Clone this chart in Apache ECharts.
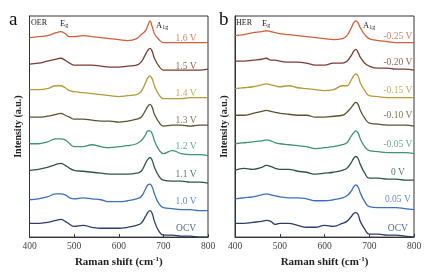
<!DOCTYPE html>
<html><head><meta charset="utf-8">
<script src="https://cdn.jsdelivr.net/npm/echarts@6/dist/echarts.min.js"></script>
<style>html,body{margin:0;padding:0;background:#fff}#c{width:435px;height:273px}</style>
</head><body><div id="c"></div>
<script>
// Raman shift sample points (cm-1)
const shifts = [400,420,440,460,470,480,490,500,520,540,560,580,600,620,640,650,660,665,670,675,680,690,700,720,740,760,780,800];
const xTicks = [400,500,600,700,800];

// Panel a (OER): stacked spectra, top to bottom
const oerNames = ['1.6 V','1.5 V','1.4 V','1.3 V','1.2 V','1.1 V','1.0 V','OCV'];
const oer16 = [203,204,205,208,209,207,204,204,205,204,203,202,201,200,202,206,210,215,220,214,207,201,198,198,198,198,198,198];
const oer15 = [176,177,179,181,182,180,177,175,175,175,174,173,173,174,175,178,186,190,192,189,182,174,170,170,170,170,170,171];
const oer14 = [150,150,151,154,154,152,149,148,147,146,145,144,143,144,145,148,157,162,164,161,154,145,141,141,141,142,142,142];
const oer13 = [122,122,123,125,126,124,122,120,120,119,118,118,117,118,120,122,129,133,135,132,125,117,113,114,114,113,114,114];
const oer12 = [95,95,97,100,100,99,95,92,92,94,92,91,92,93,95,98,104,108,108,105,98,89,85,88,85,84,84,83];
const oer11 = [68,69,71,74,75,73,70,68,67,66,65,64,64,64,65,67,75,79,81,78,71,62,58,57,57,56,56,55];
const oer10 = [38,39,41,44,44,43,40,39,40,39,38,36,36,37,39,41,49,53,54,51,44,34,30,29,28,28,27,27];
const oerOCV = [14,14,15,17,18,16,13,11,12,10,9,9,9,10,12,14,21,25,27,24,16,6,2,2,1,1,0,0];
const oerLabelY = [202,174,146,119,92,64,36,9];

// Panel b (HER)
const herNames = ['-0.25 V','-0.20 V','-0.15 V','-0.10 V','-0.05 V','0 V','0.05 V','OCV'];
const her025 = [205,206,208,209,210,209,208,207,206,205,204,203,202,201,202,205,213,218,220,218,213,206,202,200,199,198,198,198];
const her020 = [179,179,180,181,182,180,180,179,178,178,177,175,175,177,177,179,185,189,191,188,183,177,174,172,172,171,171,170];
const her015 = [151,152,153,155,156,155,154,153,154,152,151,150,149,150,154,154,160,164,166,164,157,149,144,143,142,142,142,142];
const her010 = [124,124,126,128,129,128,127,126,125,124,124,122,122,123,124,127,132,135,137,135,129,121,116,115,114,114,114,113];
const her005 = [95,96,97,98,99,98,96,95,94,93,92,90,91,92,94,96,103,106,108,106,100,92,88,87,86,86,86,85];
const her0 = [68,70,69,71,73,72,70,69,69,67,66,64,65,66,68,70,76,80,82,80,74,65,60,60,59,59,58,58];
const herP005 = [39,40,41,43,44,43,42,41,40,40,39,37,37,38,40,42,47,51,53,51,45,36,31,30,30,30,29,28];
const herOCV = [14,14,15,16,17,16,13,14,14,12,10,10,12,11,14,16,21,24,25,23,16,8,3,3,2,2,1,0];
const herLabelY = [204,178,149,124,94,66,38,9];

const oerSpectra = [oer16,oer15,oer14,oer13,oer12,oer11,oer10,oerOCV];
const herSpectra = [her025,her020,her015,her010,her005,her0,herP005,herOCV];
const colors = ['#d0603a','#7b3b32','#b59a35','#5c5232','#3e9277','#2f5645','#3b6fc2','#2c3e6b'];

const FONT = 'Liberation Serif';
const chart = echarts.init(document.getElementById('c'), null, {renderer:'canvas'});

function xAxisFor(i){
  return {
    gridIndex:i, type:'value', min:400, max:800, interval:100,
    axisLine:{show:true, lineStyle:{color:'#333', width:1}},
    axisTick:{show:true, inside:true, length:3, lineStyle:{color:'#333'}},
    axisLabel:{fontFamily:FONT, fontSize:9.5, color:'#444', margin:4},
    splitLine:{show:false},
    name:'Raman shift (cm{sup|-1})', nameLocation:'middle', nameGap:17,
    nameTextStyle:{fontFamily:FONT, fontSize:11, fontWeight:'bold', color:'#222',
      rich:{sup:{fontFamily:FONT, fontSize:7, fontWeight:'bold', color:'#222', padding:[0,0,6,0]}}}
  };
}
function yAxisFor(i){
  return {
    gridIndex:i, type:'value', min:0, max:225,
    axisLine:{show:true, lineStyle:{color:'#333', width:1}},
    axisTick:{show:false}, axisLabel:{show:false}, splitLine:{show:false},
    name:'Intensity (a.u.)', nameLocation:'middle', nameGap:6,
    nameTextStyle:{fontFamily:FONT, fontSize:10, fontWeight:'bold', color:'#222'}
  };
}

const series = [];
function addPanel(idx, spectra, names, labelY, labelX){
  spectra.forEach((arr, k) => {
    series.push({
      type:'line', xAxisIndex:idx, yAxisIndex:idx, name:names[k],
      data: shifts.map((x, j) => [x, arr[j]]),
      showSymbol:false, smooth:0.45,
      lineStyle:{color:colors[k], width:1.3}, silent:true
    });
  });
  series.push({
    type:'scatter', xAxisIndex:idx, yAxisIndex:idx, symbolSize:0, silent:true,
    data: names.map((n, k) => ({value:[labelX, labelY[k]], name:n,
      label:{color:colors[k]}})),
    label:{show:true, position:'inside', formatter:p=>p.name, fontFamily:FONT, fontSize:9.5}
  });
}
addPanel(0, oerSpectra, oerNames, oerLabelY, 751);
addPanel(1, herSpectra, herNames, herLabelY, 764);

const small = {fontFamily:FONT, fontSize:8, fill:'#222'};
chart.setOption({
  animation:false,
  backgroundColor:'#fff',
  grid:[
    {left:29.5, top:16, width:178.5, height:225, show:true, borderColor:'#333', borderWidth:1},
    {left:235, top:16, width:179, height:225, show:true, borderColor:'#333', borderWidth:1}
  ],
  xAxis:[xAxisFor(0), xAxisFor(1)],
  yAxis:[yAxisFor(0), yAxisFor(1)],
  series:series,
  graphic:[
    {type:'text', left:9, top:11, style:{text:'a', fontFamily:FONT, fontSize:19, fill:'#111'}},
    {type:'text', left:219, top:11, style:{text:'b', fontFamily:FONT, fontSize:19, fill:'#111'}},
    {type:'text', left:31, top:19, style:Object.assign({text:'OER'}, small)},
    {type:'text', left:236, top:19, style:Object.assign({text:'HER'}, small)},
    {type:'text', left:60, top:19, style:{text:'{n|E}{s|g}', rich:{n:{fontFamily:FONT,fontSize:8.5,fill:'#222'}, s:{fontFamily:FONT,fontSize:6,fill:'#222',padding:[4,0,0,0]}}}},
    {type:'text', left:262, top:19, style:{text:'{n|E}{s|g}', rich:{n:{fontFamily:FONT,fontSize:8.5,fill:'#222'}, s:{fontFamily:FONT,fontSize:6,fill:'#222',padding:[4,0,0,0]}}}},
    {type:'text', left:156, top:21, style:{text:'{n|A}{s|1g}', rich:{n:{fontFamily:FONT,fontSize:8.5,fill:'#222'}, s:{fontFamily:FONT,fontSize:6,fill:'#222',padding:[4,0,0,0]}}}},
    {type:'text', left:363, top:21, style:{text:'{n|A}{s|1g}', rich:{n:{fontFamily:FONT,fontSize:8.5,fill:'#222'}, s:{fontFamily:FONT,fontSize:6,fill:'#222',padding:[4,0,0,0]}}}}
  ]
});
</script>
</body></html>
